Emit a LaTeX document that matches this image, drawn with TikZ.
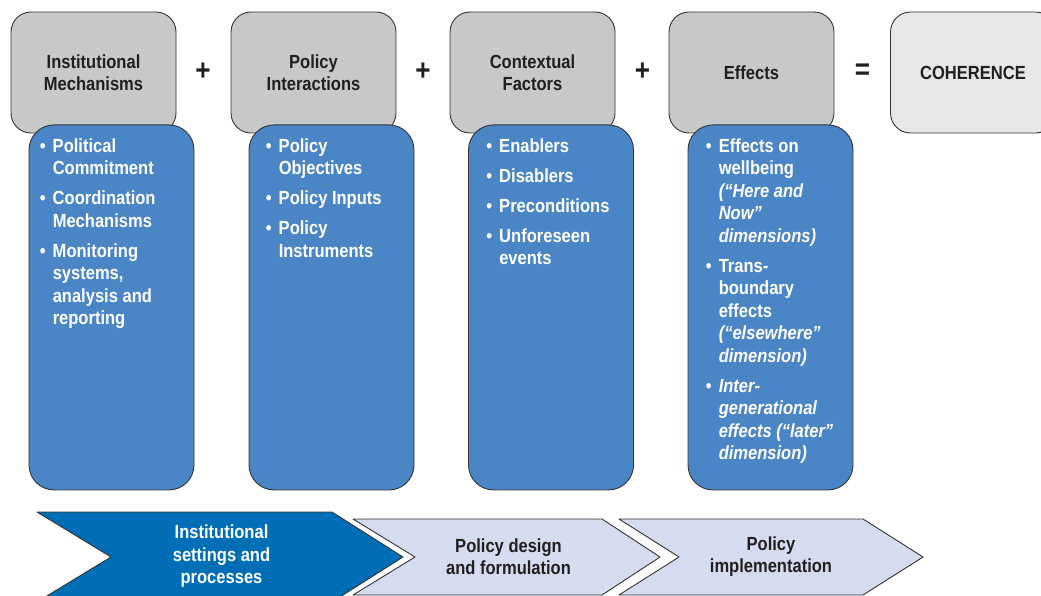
\documentclass[tikz,border=0pt]{standalone}
\usepackage{fontspec}
\setmainfont{Liberation Sans}[FakeStretch=0.87]
\usetikzlibrary{positioning}
\definecolor{boxgray}{HTML}{C7C8CA}
\definecolor{cohgray}{HTML}{E6E7E8}
\definecolor{listblue}{HTML}{4A86C6}
\definecolor{stepblue}{HTML}{006EB6}
\definecolor{steplight}{HTML}{D5DCEF}
\definecolor{inkgray}{HTML}{231F20}
\newcommand{\bul}{\makebox[13pt][l]{\textbullet}}
\newcommand{\ind}{\hspace*{13pt}}
\begin{document}
\begin{tikzpicture}[x=1pt,y=-1pt,line join=round,
  font=\fontsize{19}{22.5}\selectfont\bfseries,
  headbox/.style={draw=black!80,line width=0.9pt,fill=boxgray,rounded corners=20pt,minimum width=165pt,minimum height=121pt,align=center,text=inkgray,inner sep=0pt},
  listbox/.style={draw=black!80,line width=0.9pt,fill=listblue,rounded corners=25pt,minimum width=165pt,minimum height=365pt,anchor=north,inner sep=0pt},
  listtext/.style={anchor=north west,align=left,text=white,inner sep=0pt},
  op/.style={font=\fontsize{30}{30}\selectfont\bfseries,text=inkgray},
  stage/.style={draw=black!80,line width=0.9pt},
  stagetext/.style={align=center,text=inkgray}]
\useasboundingbox (0,0) rectangle (1041,596);
\clip (0,0) rectangle (1041,596);
% heads
\node[headbox] (inst) at (93.5,72.5) {Institutional\\Mechanisms};
\node[headbox] (pol) at (313.5,72.5) {Policy\\Interactions};
\node[headbox] (ctx) at (532.5,72.5) {Contextual\\Factors};
\node[headbox] (eff) at (751.5,72.5) {Effects};
\node[headbox,fill=cohgray] (coh) at (973,72.5) {COHERENCE};
\node[op] (plusa) at (203,72) {+};
\node[op] (plusb) at (423,72) {+};
\node[op] (plusc) at (642.5,72) {+};
\node[op] (eq) at (862.5,72) {=};
% lists
\node[listbox] (instlist) at (111.5,124.5) {};
\node[listbox] (pollist) at (331.5,124.5) {};
\node[listbox] (ctxlist) at (551,124.5) {};
\node[listbox] (efflist) at (770.5,124.5) {};
\node[listtext] (institems) at ([xshift=11pt,yshift=-14pt]instlist.north west)
  {\bul Political\\\ind Commitment\\[7.5pt]\bul Coordination\\\ind Mechanisms\\[7.5pt]\bul Monitoring\\\ind systems,\\\ind analysis and\\\ind reporting};
\node[listtext] (politems) at ([xshift=17pt,yshift=-14pt]pollist.north west)
  {\bul Policy\\\ind Objectives\\[7.5pt]\bul Policy Inputs\\[7.5pt]\bul Policy\\\ind Instruments};
\node[listtext] (ctxitems) at ([xshift=18pt,yshift=-14pt]ctxlist.north west)
  {\bul Enablers\\[7.5pt]\bul Disablers\\[7.5pt]\bul Preconditions\\[7.5pt]\bul Unforeseen\\\ind events};
\node[listtext] (effitems) at ([xshift=18pt,yshift=-14pt]efflist.north west)
  {\bul Effects on\\\ind wellbeing\\\ind\textit{(“Here and}\\\ind\textit{Now”}\\\ind\textit{dimensions)}\\[7.5pt]\bul Trans-\\\ind boundary\\\ind effects\\\ind\textit{(“elsewhere”}\\\ind\textit{dimension)}\\[7.5pt]\bul\textit{Inter-}\\\ind\textit{generational}\\\ind\textit{effects (“later”}\\\ind\textit{dimension)}};
% stages
\draw[stage,fill=stepblue] (37,512) -- (332,512) -- (403,557) -- (332,602) -- (37,602) -- (111,557) -- cycle;
\node[stagetext,text=white] (setting) at (221.5,556.5) {Institutional\\settings and\\processes};
\draw[stage,fill=steplight] (353,519) -- (602,519) -- (660,557) -- (602,595) -- (353,595) -- (415,557) -- cycle;
\node[stagetext] (design) at (508.5,556.5) {Policy design\\and formulation};
\draw[stage,fill=steplight] (619,519) -- (863,519) -- (923,557) -- (863,595) -- (619,595) -- (679,557) -- cycle;
\node[stagetext] (impl) at (771,556.5) {Policy\\implementation};
\end{tikzpicture}
\end{document}
